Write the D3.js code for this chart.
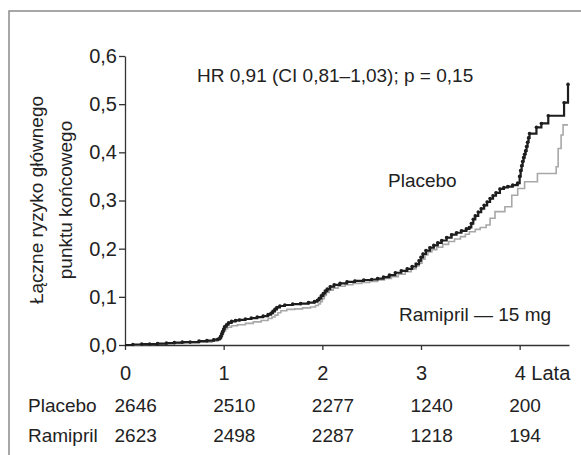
<!DOCTYPE html>
<html>
<head>
<meta charset="utf-8">
<script src="https://cdn.jsdelivr.net/npm/d3@7"></script>
<style>
  body { margin: 0; background: #fff; }
  svg text { font-family: "Liberation Sans", Arial, sans-serif; fill: #222; }
</style>
</head>
<body>
<div class="chart"></div>
<script>
// Kaplan-Meier style cumulative risk chart
let svgWidth = 581;
let svgHeight = 455;

// Placebo (black, with censor dots)
let placeboT = [0.00, 0.08, 0.17, 0.25, 0.33, 0.42, 0.50, 0.58, 0.66, 0.75, 0.83, 0.90, 0.94, 0.96, 0.97, 0.98, 0.99,
  1.00, 1.01, 1.03, 1.05, 1.08, 1.12, 1.16, 1.22, 1.28, 1.34, 1.40, 1.45, 1.48, 1.50, 1.52, 1.54, 1.57, 1.62,
  1.70, 1.78, 1.86, 1.92, 1.95, 1.97, 1.99, 2.01, 2.03, 2.05, 2.08, 2.12, 2.18, 2.25, 2.33, 2.42, 2.50, 2.56,
  2.62, 2.68, 2.74, 2.80, 2.86, 2.91, 2.95, 2.98, 3.00, 3.02, 3.05, 3.09, 3.13, 3.17, 3.21, 3.26, 3.31, 3.36,
  3.41, 3.46, 3.49, 3.51, 3.53, 3.55, 3.58, 3.61, 3.64, 3.67, 3.70, 3.73, 3.76, 3.80, 3.84, 3.88, 3.93, 3.98,
  4.00, 4.01, 4.02, 4.03, 4.04, 4.05, 4.06, 4.07, 4.08, 4.09, 4.10, 4.17, 4.22, 4.29, 4.45, 4.49];
let placeboRisk = [0.000, 0.001, 0.002, 0.002, 0.003, 0.004, 0.005, 0.006, 0.006, 0.008, 0.009, 0.011, 0.012, 0.014, 0.018, 0.023, 0.028,
  0.033, 0.038, 0.042, 0.046, 0.049, 0.051, 0.052, 0.054, 0.056, 0.058, 0.060, 0.063, 0.066, 0.070, 0.074, 0.078, 0.081, 0.083,
  0.085, 0.086, 0.088, 0.090, 0.093, 0.097, 0.102, 0.107, 0.112, 0.116, 0.121, 0.125, 0.128, 0.131, 0.133, 0.135, 0.136, 0.138,
  0.141, 0.145, 0.150, 0.154, 0.158, 0.163, 0.168, 0.175, 0.182, 0.189, 0.196, 0.202, 0.207, 0.212, 0.217, 0.223, 0.229, 0.233,
  0.237, 0.241, 0.244, 0.252, 0.261, 0.268, 0.276, 0.283, 0.290, 0.297, 0.304, 0.310, 0.316, 0.324, 0.327, 0.329, 0.332, 0.336,
  0.350, 0.362, 0.372, 0.381, 0.389, 0.396, 0.403, 0.412, 0.421, 0.430, 0.439, 0.452, 0.460, 0.476, 0.503, 0.541];

// Ramipril 15 mg (grey)
let ramiprilT = [0.00, 0.15, 0.30, 0.45, 0.60, 0.75, 0.88, 0.94, 0.96, 0.98, 0.99, 1.00, 1.02, 1.04, 1.08, 1.14, 1.22,
  1.30, 1.38, 1.45, 1.49, 1.52, 1.55, 1.58, 1.64, 1.72, 1.80, 1.88, 1.93, 1.96, 1.98, 2.00, 2.02, 2.04, 2.07,
  2.11, 2.16, 2.23, 2.31, 2.40, 2.48, 2.56, 2.63, 2.70, 2.77, 2.84, 2.90, 2.95, 2.98, 3.01, 3.04, 3.07, 3.11,
  3.16, 3.22, 3.28, 3.34, 3.40, 3.45, 3.49, 3.55, 3.60, 3.66, 3.70, 3.75, 3.85, 3.92, 3.98, 4.05, 4.18, 4.37,
  4.39, 4.42, 4.44, 4.49];
let ramiprilRisk = [0.000, 0.001, 0.002, 0.003, 0.005, 0.006, 0.008, 0.010, 0.013, 0.019, 0.024, 0.029, 0.034, 0.037, 0.040, 0.042, 0.045,
  0.048, 0.051, 0.055, 0.058, 0.062, 0.067, 0.071, 0.074, 0.075, 0.077, 0.079, 0.082, 0.085, 0.090, 0.096, 0.103, 0.109, 0.114,
  0.118, 0.122, 0.125, 0.128, 0.130, 0.132, 0.135, 0.138, 0.142, 0.147, 0.152, 0.158, 0.164, 0.170, 0.178, 0.187, 0.193, 0.198,
  0.203, 0.209, 0.215, 0.220, 0.225, 0.230, 0.235, 0.240, 0.244, 0.249, 0.263, 0.277, 0.287, 0.311, 0.325, 0.339, 0.356, 0.370,
  0.408, 0.436, 0.457, 0.457];

let yTicks = [0, 0.1, 0.2, 0.3, 0.4, 0.5, 0.6];
let xTicks = [0, 1, 2, 3, 4];
let atRiskPlacebo = [2646, 2510, 2277, 1240, 200];
let atRiskRamipril = [2623, 2498, 2287, 1218, 194];

let svg = d3.select(".chart")
  .append("svg")
  .attr("width", svgWidth)
  .attr("height", svgHeight);

// frame (runs off the right and bottom edges)
svg.append("rect")
  .attr("x", 9)
  .attr("y", 11)
  .attr("width", 640)
  .attr("height", 520)
  .attr("fill", "#fff")
  .attr("stroke", "#8a8a8a")
  .attr("stroke-width", 1.5);

let xScale = d3.scaleLinear().domain([0, 4.5]).range([125, 569]);
let yScale = d3.scaleLinear().domain([0, 0.6]).range([345, 56]);

let comma = d => d3.format(".1f")(d).replace(".", ",");

// y axis
let yAxis = svg.append("g")
  .attr("transform", `translate(${xScale(0)}, 0)`)
  .call(d3.axisLeft(yScale).tickValues(yTicks).tickFormat(comma).tickSize(6).tickPadding(2).tickSizeOuter(0));
yAxis.selectAll("text").attr("font-size", "20px").attr("fill", "#222");

// x axis
let xAxis = svg.append("g")
  .attr("transform", `translate(0, ${yScale(0)})`)
  .call(d3.axisBottom(xScale).tickValues(xTicks).tickFormat(d3.format("d")).tickSize(5).tickPadding(16).tickSizeOuter(0));
xAxis.selectAll("text").attr("font-size", "20px").attr("fill", "#222");
xAxis.selectAll(".tick text")
  .filter(d => d === 4)
  .attr("text-anchor", "start")
  .attr("x", -5.5)
  .text("4 Lata");

svg.selectAll(".domain, .tick line")
  .attr("stroke", "#333")
  .attr("stroke-width", 1.3);

// curves
let placebo = placeboT.map((t, i) => [t, placeboRisk[i]]);
let ramipril = ramiprilT.map((t, i) => [t, ramiprilRisk[i]]);

let line = d3.line()
  .x(d => xScale(d[0]))
  .y(d => yScale(d[1]))
  .curve(d3.curveStepAfter);

svg.append("path")
  .datum(ramipril)
  .attr("d", line)
  .attr("fill", "none")
  .attr("stroke", "#a8a8a8")
  .attr("stroke-width", 1.6);

svg.append("path")
  .datum(placebo)
  .attr("d", line)
  .attr("fill", "none")
  .attr("stroke", "#1e1e1e")
  .attr("stroke-width", 2.2);

svg.append("g")
  .selectAll("circle")
  .data(placebo.slice(1))
  .enter()
  .append("circle")
  .attr("cx", d => xScale(d[0]))
  .attr("cy", d => yScale(d[1]))
  .attr("r", 1.8)
  .attr("fill", "#1e1e1e");

// y axis title
let yTitle = svg.append("text")
  .attr("transform", "rotate(-90)")
  .attr("text-anchor", "middle")
  .attr("font-size", "19px");
yTitle.append("tspan").attr("x", -200).attr("y", 42.5).text("Łączne ryzyko głównego");
yTitle.append("tspan").attr("x", -200).attr("y", 71.5).text("punktu końcowego");

// annotations
svg.append("text")
  .attr("x", 197)
  .attr("y", 82)
  .attr("font-size", "19px")
  .text("HR 0,91 (CI 0,81–1,03); p = 0,15");

svg.append("text")
  .attr("x", 388)
  .attr("y", 186.5)
  .attr("font-size", "19px")
  .text("Placebo");

svg.append("text")
  .attr("x", 399)
  .attr("y", 321)
  .attr("font-size", "19px")
  .text("Ramipril — 15 mg");

// numbers at risk
let table = svg.append("g").attr("font-size", "19px");
table.append("text").attr("x", 28).attr("y", 411.5).text("Placebo");
table.append("text").attr("x", 28).attr("y", 441.5).text("Ramipril");

table.selectAll(".placeboN")
  .data(atRiskPlacebo)
  .enter()
  .append("text")
  .attr("x", (d, i) => xScale(xTicks[i]) - 10.5)
  .attr("y", 411.5)
  .text(d => d);

table.selectAll(".ramiprilN")
  .data(atRiskRamipril)
  .enter()
  .append("text")
  .attr("x", (d, i) => xScale(xTicks[i]) - 10.5)
  .attr("y", 441.5)
  .text(d => d);
</script>
</body>
</html>
